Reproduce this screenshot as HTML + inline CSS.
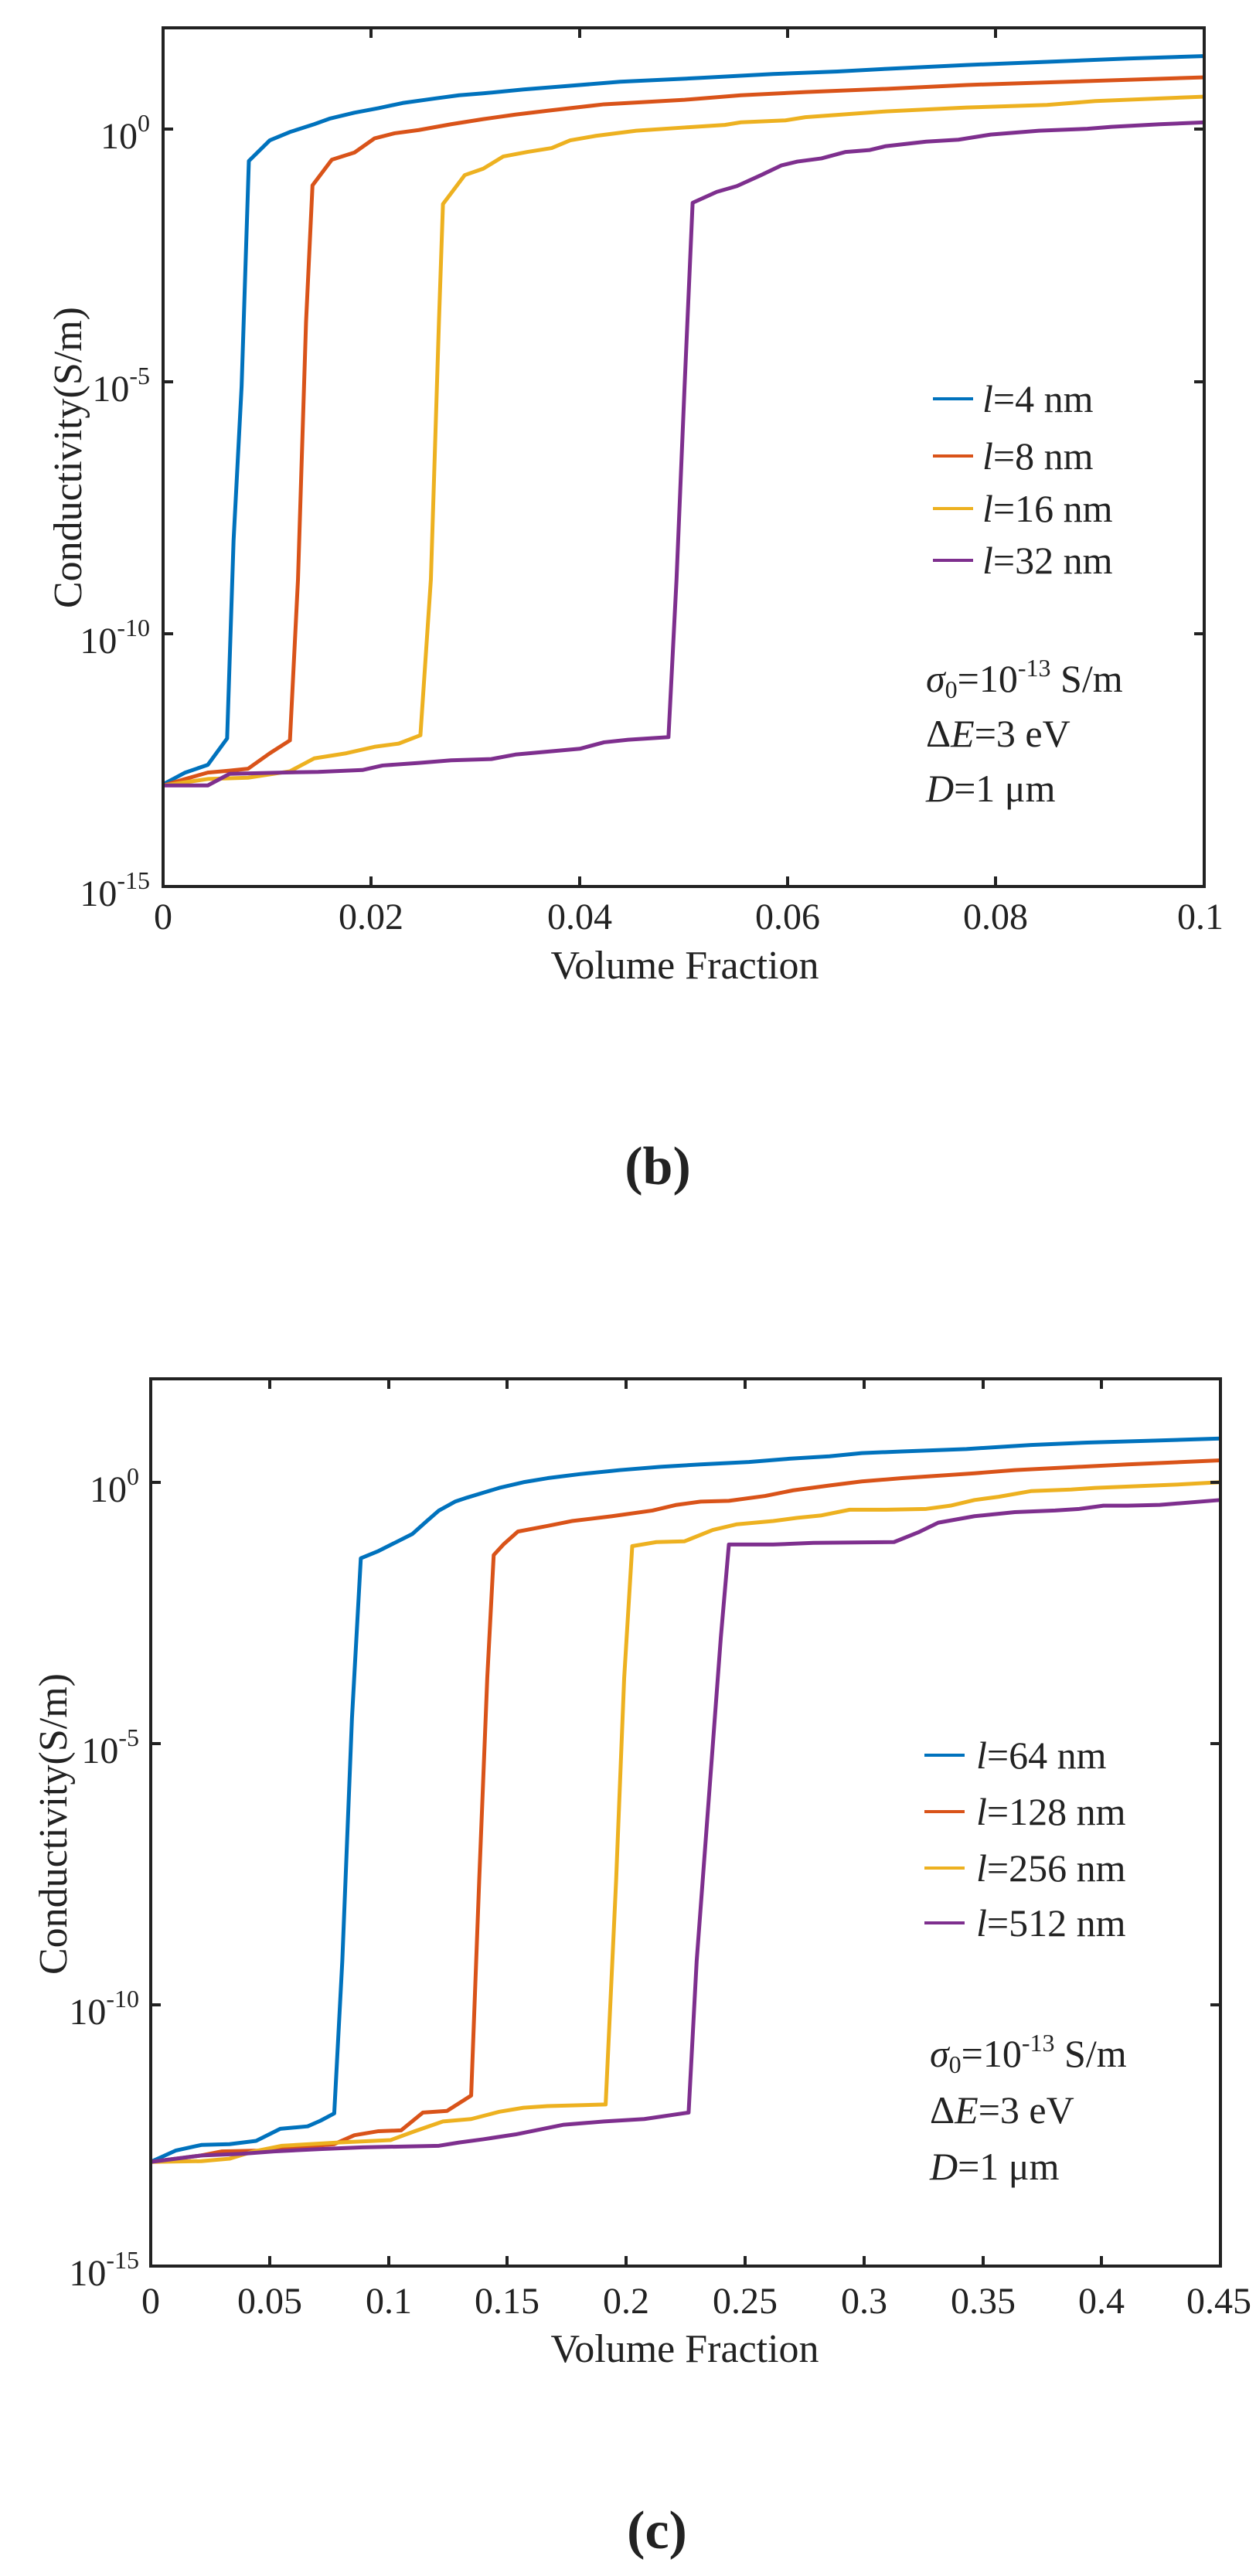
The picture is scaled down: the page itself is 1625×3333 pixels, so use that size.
<!DOCTYPE html>
<html><head><meta charset="utf-8"><style>
html,body{margin:0;padding:0;background:#fff;}
svg{display:block;}
text{font-family:"Liberation Serif",serif;fill:#222;}
</style></head><body>
<svg width="1625" height="3333" viewBox="0 0 1625 3333" xmlns="http://www.w3.org/2000/svg">
<g transform="scale(1.042,0.833)" fill="none" stroke-width="5" stroke-linejoin="round">
<polyline vector-effect="non-scaling-stroke" stroke="#0072BD" points="203,1218 230,1200 258,1188 282,1147 290,840 300,600 309,250 335,218 360,205 390,193 410,184 440,175 470,168 500,160 540,153 570,148 600,145 650,139 700,134 770,127 870,121 960,115 1040,111 1100,107 1200,101 1300,96 1400,91 1497,87"/>
<polyline vector-effect="non-scaling-stroke" stroke="#D95319" points="203,1220 230,1210 258,1200 285,1197 308,1194 335,1170 360,1150 370,900 380,500 388,288 412,248 440,237 465,215 490,207 520,202 560,193 600,185 640,178 680,172 750,162 850,155 920,148 1000,143 1100,138 1200,132 1300,128 1497,120"/>
<polyline vector-effect="non-scaling-stroke" stroke="#EDB120" points="203,1220 258,1210 308,1208 360,1198 390,1178 430,1170 465,1160 495,1155 522,1142 535,900 545,500 550,317 577,272 600,262 625,243 655,236 685,230 708,218 740,211 790,203 850,198 900,194 920,190 975,187 1000,182 1100,173 1200,167 1300,163 1360,157 1497,150"/>
<polyline vector-effect="non-scaling-stroke" stroke="#7E2F8E" points="203,1220 258,1220 285,1202 350,1200 395,1199 450,1196 475,1189 520,1185 560,1181 610,1179 640,1172 720,1163 750,1153 780,1149 830,1145 840,900 850,600 860,315 890,298 915,289 945,272 970,257 990,251 1020,246 1050,236 1080,233 1100,227 1150,220 1190,217 1230,209 1290,203 1350,200 1380,197 1440,193 1497,190"/>
</g>
<g stroke="#222" stroke-width="4" fill="none">
<rect x="211" y="36" width="1347" height="1111"/>
<path d="M480,1147v-13M750,1147v-13M1019,1147v-13M1288,1147v-13M480,36v13M750,36v13M1019,36v13M1288,36v13
M211,167h13M211,494h13M211,820h13M1558,167h-13M1558,494h-13M1558,820h-13"/>
</g>
<g font-size="48" text-anchor="middle">
<text x="211" y="1202">0</text><text x="480" y="1202">0.02</text><text x="750" y="1202">0.04</text>
<text x="1019" y="1202">0.06</text><text x="1288" y="1202">0.08</text><text x="1553" y="1202">0.1</text>
</g>
<g font-size="48" text-anchor="end">
<text x="194" y="192">10<tspan font-size="32" dy="-22">0</tspan></text>
<text x="194" y="519">10<tspan font-size="32" dy="-22">-5</tspan></text>
<text x="194" y="845">10<tspan font-size="32" dy="-22">-10</tspan></text>
<text x="194" y="1172">10<tspan font-size="32" dy="-22">-15</tspan></text>
</g>
<text x="886" y="1266" font-size="52" text-anchor="middle">Volume Fraction</text>
<text transform="translate(105,592) rotate(-90)" font-size="52" text-anchor="middle">Conductivity(S/m)</text>
<g stroke-width="4">
<line x1="1207" y1="516" x2="1259" y2="516" stroke="#0072BD"/>
<line x1="1207" y1="590" x2="1259" y2="590" stroke="#D95319"/>
<line x1="1207" y1="658" x2="1259" y2="658" stroke="#EDB120"/>
<line x1="1207" y1="725" x2="1259" y2="725" stroke="#7E2F8E"/>
</g>
<g font-size="50">
<text x="1271" y="533"><tspan font-style="italic">l</tspan>=4 nm</text>
<text x="1271" y="607"><tspan font-style="italic">l</tspan>=8 nm</text>
<text x="1271" y="675"><tspan font-style="italic">l</tspan>=16 nm</text>
<text x="1271" y="742"><tspan font-style="italic">l</tspan>=32 nm</text>
<text x="1198" y="895"><tspan font-style="italic">σ</tspan><tspan font-size="32" dy="8">0</tspan><tspan dy="-8">=10</tspan><tspan font-size="32" dy="-20">-13</tspan><tspan dy="20"> S/m</tspan></text>
<text x="1198" y="966">Δ<tspan font-style="italic">E</tspan>=3 eV</text>
<text x="1198" y="1037"><tspan font-style="italic">D</tspan>=1 μm</text>
</g>
<text x="851" y="1532" font-size="70" font-weight="bold" text-anchor="middle">(b)</text>

<g transform="translate(0,1700) scale(1.042,1.047)" fill="none" stroke-width="5" stroke-linejoin="round">
<polyline vector-effect="non-scaling-stroke" stroke="#0072BD" points="187,1048 218,1034 250,1027 285,1026 318,1022 348,1007 382,1004 398,997 415,988 425,800 437,500 448,302 470,293 490,283 512,272 530,256 545,243 565,232 580,227 600,221 620,215 650,208 680,203 720,198 770,193 820,189 870,186 930,183 980,179 1030,176 1070,172 1120,170 1200,167 1280,162 1350,159 1420,157 1515,154"/>
<polyline vector-effect="non-scaling-stroke" stroke="#D95319" points="187,1048 250,1040 275,1035 320,1034 415,1026 440,1015 470,1010 498,1009 525,987 555,985 585,966 595,700 605,450 613,298 625,285 643,269 680,262 710,256 760,250 810,243 840,236 870,232 905,231 950,225 985,218 1030,212 1070,207 1120,203 1210,197 1260,193 1300,191 1400,186 1515,181"/>
<polyline vector-effect="non-scaling-stroke" stroke="#EDB120" points="187,1048 250,1047 285,1044 315,1035 350,1028 420,1024 485,1021 515,1010 550,998 585,995 620,986 650,981 680,979 752,977 765,700 775,450 785,287 815,282 850,281 885,267 915,260 960,256 990,252 1020,249 1055,242 1100,242 1150,241 1180,237 1210,230 1240,226 1280,219 1330,217 1360,215 1410,213 1460,211 1515,208"/>
<polyline vector-effect="non-scaling-stroke" stroke="#7E2F8E" points="187,1048 250,1040 300,1038 340,1035 400,1032 450,1030 545,1028 570,1024 600,1020 640,1014 700,1002 750,998 800,995 855,987 865,800 880,600 895,400 905,285 960,285 1010,283 1110,282 1140,270 1165,258 1210,250 1260,245 1310,243 1340,241 1370,237 1400,237 1440,236 1515,230"/>
</g>
<g stroke="#222" stroke-width="4" fill="none">
<rect x="195" y="1784" width="1384" height="1148"/>
<path d="M349,2932v-13M503,2932v-13M656,2932v-13M810,2932v-13M964,2932v-13M1118,2932v-13M1272,2932v-13M1425,2932v-13
M349,1784v13M503,1784v13M656,1784v13M810,1784v13M964,1784v13M1118,1784v13M1272,1784v13M1425,1784v13
M195,1918h13M195,2256h13M195,2594h13M1579,1918h-13M1579,2256h-13M1579,2594h-13"/>
</g>
<g font-size="48" text-anchor="middle">
<text x="195" y="2993">0</text><text x="349" y="2993">0.05</text><text x="503" y="2993">0.1</text>
<text x="656" y="2993">0.15</text><text x="810" y="2993">0.2</text><text x="964" y="2993">0.25</text>
<text x="1118" y="2993">0.3</text><text x="1272" y="2993">0.35</text><text x="1425" y="2993">0.4</text><text x="1577" y="2993">0.45</text>
</g>
<g font-size="48" text-anchor="end">
<text x="180" y="1943">10<tspan font-size="32" dy="-22">0</tspan></text>
<text x="180" y="2281">10<tspan font-size="32" dy="-22">-5</tspan></text>
<text x="180" y="2619">10<tspan font-size="32" dy="-22">-10</tspan></text>
<text x="180" y="2957">10<tspan font-size="32" dy="-22">-15</tspan></text>
</g>
<text x="886" y="3056" font-size="52" text-anchor="middle">Volume Fraction</text>
<text transform="translate(86,2360) rotate(-90)" font-size="52" text-anchor="middle">Conductivity(S/m)</text>
<g stroke-width="4">
<line x1="1196" y1="2271" x2="1248" y2="2271" stroke="#0072BD"/>
<line x1="1196" y1="2344" x2="1248" y2="2344" stroke="#D95319"/>
<line x1="1196" y1="2417" x2="1248" y2="2417" stroke="#EDB120"/>
<line x1="1196" y1="2488" x2="1248" y2="2488" stroke="#7E2F8E"/>
</g>
<g font-size="50">
<text x="1263" y="2288"><tspan font-style="italic">l</tspan>=64 nm</text>
<text x="1263" y="2361"><tspan font-style="italic">l</tspan>=128 nm</text>
<text x="1263" y="2434"><tspan font-style="italic">l</tspan>=256 nm</text>
<text x="1263" y="2505"><tspan font-style="italic">l</tspan>=512 nm</text>
<text x="1203" y="2674"><tspan font-style="italic">σ</tspan><tspan font-size="32" dy="8">0</tspan><tspan dy="-8">=10</tspan><tspan font-size="32" dy="-20">-13</tspan><tspan dy="20"> S/m</tspan></text>
<text x="1203" y="2747">Δ<tspan font-style="italic">E</tspan>=3 eV</text>
<text x="1203" y="2820"><tspan font-style="italic">D</tspan>=1 μm</text>
</g>
<text x="850" y="3297" font-size="70" font-weight="bold" text-anchor="middle">(c)</text>
</svg>
</body></html>
